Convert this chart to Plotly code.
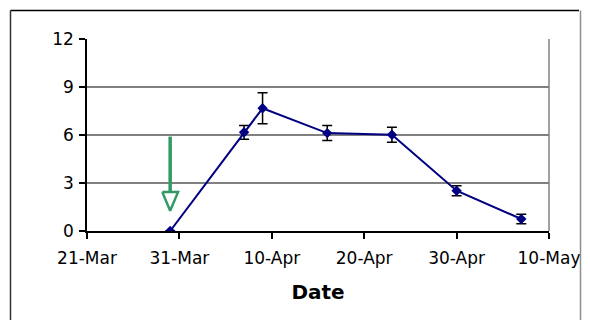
import plotly.graph_objects as go
import datetime as dt

dates = ["2004-03-30", "2004-04-07", "2004-04-09", "2004-04-16", "2004-04-23", "2004-04-30", "2004-05-07"]
values = [0.0, 6.17, 7.67, 6.12, 6.02, 2.52, 0.75]
errors = [0.0, 0.43, 0.97, 0.47, 0.47, 0.31, 0.29]

x_tickvals = ["2004-03-21", "2004-03-31", "2004-04-10", "2004-04-20", "2004-04-30", "2004-05-10"]
x_ticktext = ["21-Mar", "31-Mar", "10-Apr", "20-Apr", "30-Apr", "10-May"]
y_tickvals = [0, 3, 6, 9, 12]

# arrow marker (annotation pointing at first sampling date)
arrow_x = "2004-03-30"
arrow_tail_y = 5.9
arrow_head_base_y = 2.43
arrow_tip_y = 1.27
arrow_half_w_days = 0.85
GREEN = "#339966"

OFF = 8  # page body margin
W, H = 590 - OFF, 320 - OFF
L, T = 87 - OFF, 39 - OFF
R = W - (549 - OFF)
B = H - (231 - OFF)
pw, ph = W - L - R, H - T - B

def px_x(page_x):
    return (page_x - OFF - L) / pw

def px_y(page_y):
    return (T + ph - (page_y - OFF)) / ph

fig = go.Figure()

ax = dt.datetime.fromisoformat(arrow_x)
half = dt.timedelta(hours=24 * arrow_half_w_days)
fig.add_trace(go.Scatter(
    x=[ax - half, ax + half, ax, ax - half],
    y=[arrow_head_base_y, arrow_head_base_y, arrow_tip_y, arrow_head_base_y],
    mode="lines", fill="toself", fillcolor="white",
    line=dict(color=GREEN, width=2.5), hoverinfo="skip", showlegend=False,
))

fig.add_trace(go.Scatter(
    x=dates, y=values, mode="lines+markers",
    line=dict(color="#000080", width=2),
    marker=dict(symbol="diamond", size=8, color="#000080"),
    error_y=dict(type="data", array=errors, visible=True, color="black", thickness=1.5, width=5),
    showlegend=False,
))

fig.add_shape(type="line", xref="x", yref="y", x0=arrow_x, x1=arrow_x,
              y0=arrow_tail_y, y1=arrow_head_base_y, line=dict(color=GREEN, width=3.5))

# right plot-area border
fig.add_shape(type="line", xref="paper", yref="paper", x0=1, x1=1, y0=0, y1=1,
              line=dict(color="#808080", width=1.5), layer="below")

# outer chart border: top & left black, right gray
fig.add_shape(type="line", xref="paper", yref="paper",
              x0=px_x(10.5), x1=px_x(579), y0=px_y(10.5), y1=px_y(10.5),
              line=dict(color="black", width=1.5))
fig.add_shape(type="line", xref="paper", yref="paper",
              x0=px_x(10.5), x1=px_x(10.5), y0=px_y(10.5), y1=px_y(340),
              line=dict(color="#333333", width=1.5))
fig.add_shape(type="line", xref="paper", yref="paper",
              x0=px_x(580.5), x1=px_x(580.5), y0=px_y(10.5), y1=px_y(340),
              line=dict(color="#909090", width=1.5))

font = "DejaVu Sans, Verdana, sans-serif"
fig.update_layout(
    width=W, height=H,
    margin=dict(l=L, r=R, t=T, b=B, autoexpand=False),
    paper_bgcolor="white", plot_bgcolor="white",
    font=dict(family=font, size=17, color="black"),
    xaxis=dict(
        type="date", range=[x_tickvals[0], x_tickvals[-1]],
        tickvals=x_tickvals, ticktext=x_ticktext,
        showgrid=False, zeroline=False, automargin=False,
        showline=True, linecolor="black", linewidth=1.5,
        ticks="outside", ticklen=6, tickcolor="black", tickwidth=1.5,
        tickfont=dict(size=17), ticklabelstandoff=5,
        title=dict(text="<b>Date</b>", font=dict(size=20), standoff=18),
    ),
    yaxis=dict(
        range=[0, 12], tickvals=y_tickvals,
        showgrid=True, gridcolor="#808080", gridwidth=1.5,
        zeroline=False, automargin=False,
        showline=True, linecolor="black", linewidth=1.5,
        ticks="outside", ticklen=6, tickcolor="black", tickwidth=1.5,
        tickfont=dict(size=17), ticklabelstandoff=2,
    ),
)

fig.write_html("out.html")
